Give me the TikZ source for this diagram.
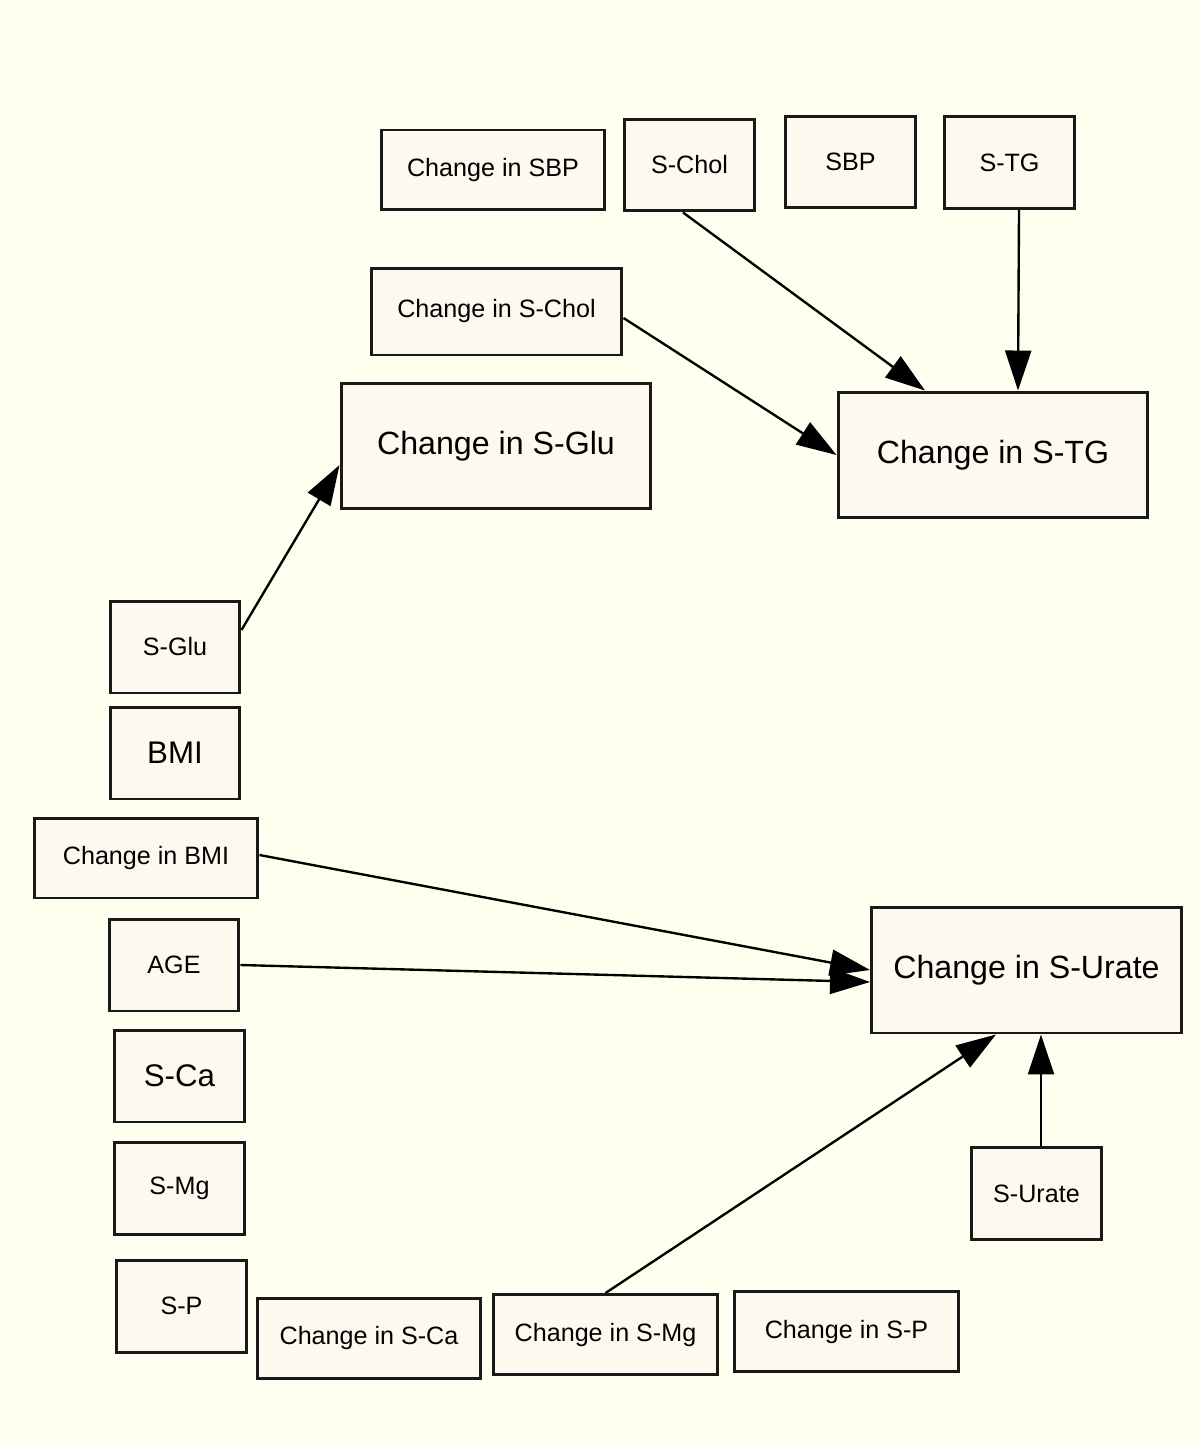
\documentclass[tikz,border=0pt]{standalone}
\usepackage{fontspec}
\setmainfont{Liberation Sans}
\usetikzlibrary{arrows.meta}
\usepackage{xcolor}
\definecolor{paper}{HTML}{FFFFF0}
\definecolor{boxfill}{HTML}{FDF9EE}
\colorlet{boxline}{black!90}

\tikzset{
	var/.style={draw=boxline,fill=boxfill,line width=1.7pt,inner sep=0pt,
		minimum width=2.6cm,minimum height=1.84cm,font=\fontsize{14.3}{16}\selectfont},
	change/.style={var,minimum width=4.48cm,minimum height=1.6cm},
	outcome/.style={var,minimum width=6.2cm,minimum height=2.52cm,font=\fontsize{18.3}{21}\selectfont},
	bigvar/.style={var,font=\fontsize{17.8}{20}\selectfont},
	edge/.style={line width=1.35pt,-{Triangle[length=0.8cm,width=0.52cm]}},
}

\begin{document}
\begin{tikzpicture}[x=0.02cm,y=-0.02cm]
	\fill[paper] (0,0) rectangle (1200,1446);
	\useasboundingbox (0,0) rectangle (1200,1446);
	% top row
	\node[change] (dsbp) at (493,170) {Change in SBP};
	\node[var] (schol) at (689.5,165) {S-Chol};
	\node[var] (sbp) at (850.5,162) {SBP};
	\node[var] (stg) at (1009.5,162.5) {S-TG};
	\node[change,minimum width=5.02cm,minimum height=1.74cm] (dchol) at (496.5,311.5) {Change in S-Chol};
	% outcomes
	\node[outcome] (dglu) at (496,446) {Change in S-Glu};
	\node[outcome] (dtg) at (993,455) {Change in S-TG};
	\node[outcome] (durate) at (1026.5,970) {Change in S-Urate};
	% left column
	\node[var] (sglu) at (175,647) {S-Glu};
	\node[bigvar] (bmi) at (175,753) {BMI};
	\node[change] (dbmi) at (146,858) {Change in BMI};
	\node[var] (age) at (174,965) {AGE};
	\node[bigvar] (sca) at (179.5,1076) {S-Ca};
	\node[var] (smg) at (179.5,1188) {S-Mg};
	\node[var] (sp) at (181.5,1306) {S-P};
	% bottom row
	\node[change] (dca) at (369,1338) {Change in S-Ca};
	\node[change] (dmg) at (605.5,1334.5) {Change in S-Mg};
	\node[change] (dp) at (846.5,1331.5) {Change in S-P};
	\node[var] (surate) at (1036.5,1193.5) {S-Urate};

	\draw[edge] ([xshift=-0.13cm]schol.south) -- ([xshift=-1.36cm]dtg.north);
	\draw[edge] ([xshift=0.19cm]stg.south) -- ([xshift=0.5cm]dtg.north);
	\draw[edge] ([yshift=-0.13cm]dchol.east) -- (dtg.west);
	\draw[edge] ([yshift=0.34cm]sglu.east) -- ([yshift=-0.38cm]dglu.west);
	\draw[edge] ([yshift=0.06cm]dbmi.east) -- (durate.west);
	\draw[edge] (age.east) -- ([yshift=-0.24cm]durate.west);
	\draw[edge] (dmg.north) -- ([xshift=-0.61cm]durate.south);
	\draw[edge] ([xshift=0.09cm]surate.north) -- ([xshift=0.09cm]surate.north |- durate.south);
\end{tikzpicture}
\end{document}
